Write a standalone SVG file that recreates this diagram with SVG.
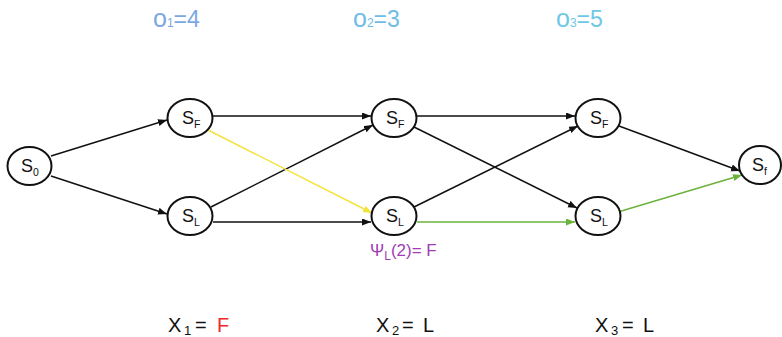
<svg xmlns="http://www.w3.org/2000/svg" width="782" height="337" viewBox="0 0 782 337">
<style>
text{font-family:"Liberation Sans",Arial,sans-serif;}
.node ellipse{fill:#fff;stroke:#111;stroke-width:2;}
.lbl{font-size:18px;fill:#111;}
.sub{font-size:10.5px;}
.e{stroke:#111;stroke-width:1.5;fill:none;marker-end:url(#ak);}
.ey{stroke:#f2e43c;stroke-width:1.5;fill:none;marker-end:url(#ay);}
.eg{stroke:#6ab33c;stroke-width:1.5;fill:none;marker-end:url(#ag);}
</style>
<defs>
<marker id="ak" markerUnits="userSpaceOnUse" markerWidth="10" markerHeight="8" refX="9" refY="3.5" orient="auto"><path d="M0,0 L9,3.5 L0,7 z" fill="#111"/></marker>
<marker id="ay" markerUnits="userSpaceOnUse" markerWidth="10" markerHeight="8" refX="9" refY="3.5" orient="auto"><path d="M0,0 L9,3.5 L0,7 z" fill="#f2e43c"/></marker>
<marker id="ag" markerUnits="userSpaceOnUse" markerWidth="10" markerHeight="8" refX="9" refY="3.5" orient="auto"><path d="M0,0 L9,3.5 L0,7 z" fill="#6ab33c"/></marker>
</defs>
<g id="observations">
<text x="153" y="27" fill="#7ba7e2"><tspan font-size="25">o</tspan><tspan font-size="12">1</tspan><tspan font-size="23">=4</tspan></text>
<text x="353" y="27" fill="#6ebde6"><tspan font-size="25">o</tspan><tspan font-size="12">2</tspan><tspan font-size="23">=3</tspan></text>
<text x="556" y="27" fill="#6cc8e6"><tspan font-size="25">o</tspan><tspan font-size="12">3</tspan><tspan font-size="23">=5</tspan></text>
</g>
<g id="connectors">
<line class="e" x1="51" y1="156" x2="167" y2="120"/>
<line class="e" x1="51" y1="176" x2="167" y2="214"/>
<line class="e" x1="213" y1="116" x2="371" y2="116"/>
<line class="e" x1="211" y1="207" x2="373" y2="125"/>
<line class="ey" x1="208" y1="130" x2="372" y2="213"/>
<line class="e" x1="213" y1="222" x2="371" y2="222"/>
<line class="e" x1="417" y1="116" x2="575" y2="116"/>
<line class="e" x1="414" y1="127" x2="577" y2="208"/>
<line class="e" x1="414" y1="207" x2="578" y2="126"/>
<line class="eg" x1="417" y1="222" x2="575" y2="222"/>
<line class="e" x1="619" y1="126" x2="740" y2="171"/>
<line class="eg" x1="618" y1="212" x2="742" y2="175"/>
</g>
<g id="S0" class="node"><ellipse cx="29.5" cy="166" rx="22" ry="19"/><text class="lbl" x="21" y="172">S<tspan class="sub" dy="4">0</tspan></text></g>
<g id="SF1" class="node"><ellipse cx="190" cy="118" rx="22.5" ry="19"/><text class="lbl" x="182" y="124">S<tspan class="sub" dy="4">F</tspan></text></g>
<g id="SL1" class="node"><ellipse cx="190" cy="216" rx="22.5" ry="19"/><text class="lbl" x="182" y="222">S<tspan class="sub" dy="4">L</tspan></text></g>
<g id="SF2" class="node"><ellipse cx="394" cy="118" rx="22.5" ry="19"/><text class="lbl" x="386" y="124">S<tspan class="sub" dy="4">F</tspan></text></g>
<g id="SL2" class="node"><ellipse cx="394" cy="216" rx="22.5" ry="19"/><text class="lbl" x="386" y="222">S<tspan class="sub" dy="4">L</tspan></text></g>
<g id="SF3" class="node"><ellipse cx="598" cy="118" rx="22.5" ry="19"/><text class="lbl" x="590" y="124">S<tspan class="sub" dy="4">F</tspan></text></g>
<g id="SL3" class="node"><ellipse cx="598" cy="216" rx="22.5" ry="19"/><text class="lbl" x="590" y="222">S<tspan class="sub" dy="4">L</tspan></text></g>
<g id="Sf" class="node"><ellipse cx="760" cy="165" rx="21" ry="19"/><text class="lbl" x="752" y="171">S<tspan class="sub" dy="4">f</tspan></text></g>
<g id="psi"><text x="370" y="256" font-size="17" fill="#a03cb4">Ψ<tspan font-size="12" dy="4">L</tspan><tspan dy="-4">(2)= F</tspan></text></g>
<g id="assignments" font-size="20" fill="#111">
<text x="168" y="332">X<tspan font-size="13" x="184" dy="3">1</tspan><tspan x="195" dy="-3">=</tspan><tspan x="217" fill="#f02828">F</tspan></text>
<text x="376" y="332">X<tspan font-size="13" x="392" dy="3">2</tspan><tspan x="402" dy="-3">=</tspan><tspan x="423">L</tspan></text>
<text x="595" y="332">X<tspan font-size="13" x="611" dy="3">3</tspan><tspan x="622" dy="-3">=</tspan><tspan x="643">L</tspan></text>
</g>
</svg>
